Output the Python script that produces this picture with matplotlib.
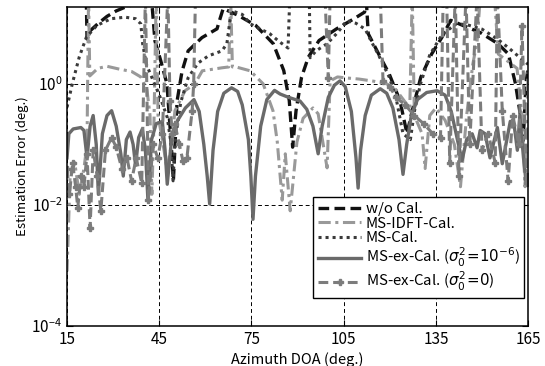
import numpy as np
import matplotlib
matplotlib.use("Agg")
import matplotlib.pyplot as plt
from matplotlib.ticker import NullLocator, FixedLocator

plt.rcParams['font.family'] = ['Noto Sans CJK JP', 'DejaVu Sans']
plt.rcParams['mathtext.fontset'] = 'dejavusans'

# w/o Cal.
wo_deg = [15, 21.2, 21.5, 22.5, 25, 28, 31, 34.5, 42.5, 43.6, 45.5, 47.5, 48.8, 49.6, 50.8,
          52.4, 54.4, 58.9, 63.8, 64.8, 65.8, 70.7, 76.4, 82.1, 85.5, 87.3, 88.4, 89.5, 91.3,
          93.5, 97, 102.7, 108.4, 111.8, 112.4, 113, 116.4, 119.8, 123.3, 125.6, 127.3, 130.1,
          133.6, 137, 139.8, 143.8, 149.5, 155.2, 158.6, 160.9, 162.6, 163.4, 164.3, 165]
wo_val = [40, 40, 5.5, 7.5, 9.8, 13, 16, 19, 25, 5.1, 2.4, 1.0, 0.12, 0.025, 0.52,
          1.6, 3.5, 5.8, 8.1, 12, 17.5, 13.5, 9.2, 4.6, 1.66, 0.53, 0.09, 0.36, 1.29,
          2.76, 5.2, 8.1, 11.9, 15.3, 22, 6.7, 3.1, 1.46, 0.53, 0.15, 0.36, 1.29,
          3.1, 5.9, 11.2, 9.2, 7.0, 4.6, 3.1, 1.0, 0.28, 0.115, 1.0, 1.9]

# MS-IDFT-Cal.
idft_deg = [15, 16, 17.5, 19, 20.5, 21.5, 22, 22.4, 25, 28, 32, 36, 39, 41, 42, 42.6, 43.3,
            44, 44.6, 46, 47.5, 49, 50.1, 53.4, 56.6, 59, 65.4, 67.6, 68.2, 68.8, 70, 74.6,
            78.8, 82, 83.4, 85, 86, 87.6, 89.8, 91.8, 95, 96.7, 99.6, 100.6, 103, 106, 110,
            115, 119, 122, 125, 126.5, 127.3, 128, 130.5, 131.5, 133, 135, 138, 141, 143,
            145, 147, 148.4, 149.5, 154, 155.3, 158.2, 161.4, 163, 164, 165]
idft_val = [0.0008, 0.03, 0.05, 0.015, 0.04, 0.1, 30, 1.35, 1.8, 1.95, 1.75, 1.6, 1.3, 0.8, 0.3,
            0.015, 0.25, 30, 0.3, 0.12, 0.04, 0.1, 0.36, 0.77, 1.0, 1.64, 1.84, 1.9, 30, 1.9,
            1.9, 1.64, 1.0, 0.36, 0.11, 0.012, 0.07, 0.008, 0.11, 0.27, 0.4, 0.32, 0.041, 1.12,
            1.3, 1.25, 1.2, 1.1, 1.0, 0.8, 0.5, 0.4, 30, 0.3, 0.15, 0.04, 0.3, 0.4, 0.25, 0.1,
            0.02, 0.3, 2.1, 5, 30, 30, 3.1, 2.4, 1.8, 0.3, 0.02, 1.6]

# MS-Cal.
ms_deg = [15, 16.7, 19, 21.3, 24.7, 29.3, 33.9, 37.3, 39, 39.6, 40.8, 43, 45.3, 47.6, 48.7,
          49.5, 50.1, 52, 54.4, 57.6, 61, 65.4, 67, 68, 68.7, 72, 74.6, 78, 81, 84, 86.9,
          87.5, 93.8, 94.1, 96, 99.6, 103, 106, 109, 112, 114, 116.2, 119.8, 122, 124.3,
          126.7, 128, 130, 133, 137, 141.6, 145, 150, 155, 159, 162, 165]
ms_val = [0.41, 1.0, 2.8, 5.9, 9.2, 11.9, 12.6, 11.9, 9.8, 4.6, 2.1, 1.14, 0.6, 0.28, 0.115,
          0.025, 0.11, 0.5, 1.26, 2.2, 2.9, 3.5, 4.6, 11, 16, 14, 9.8, 8, 6.7, 5, 3.9,
          30, 30, 2.7, 3.5, 4.6, 7, 11, 10, 8, 5, 3.1, 1.3, 0.6, 0.15,
          0.12, 0.35, 1.0, 3, 6.5, 9.8, 9.5, 8, 5.5, 3.8, 2.8, 2.1]

# MS-ex-Cal. (sigma0^2 = 1e-6)
ex6_deg = [15, 15.6, 17, 19.5, 20.5, 21.5, 22.5, 23.5, 24.5, 25.2, 26.5, 28, 29.5, 31, 32.5,
           33.3, 34.3, 35.5, 36.5, 37.3, 38.3, 39.5, 40.5, 41.3, 42.5, 44, 46, 46.9, 47.6,
           49, 51, 53.5, 56.3, 58, 59.5, 60.6, 61.4, 62.5, 64, 66, 68.5, 70.5, 72, 74, 74.8,
           75.5, 76.3, 78, 80, 82.5, 84.3, 87, 90.8, 93, 95, 96.7, 98, 100, 102, 103.8,
           105.5, 107.5, 109, 109.7, 110.5, 112, 114, 116.9, 119, 121, 123, 124.3, 125.5,
           127, 129, 132, 135.4, 138, 140, 142, 143.5, 145, 146.8, 148.4, 149.4, 151, 152.6,
           155, 156.6, 159.2, 160.5, 161.5, 162.3, 163.5, 164.3, 165]
ex6_val = [0.06, 0.15, 0.18, 0.19, 0.17, 0.06, 0.2, 0.30, 0.1, 0.015, 0.15, 0.3, 0.36, 0.2, 0.07,
           0.03, 0.12, 0.16, 0.1, 0.045, 0.13, 0.18, 0.08, 0.0125, 0.12, 0.22, 0.24, 0.08, 0.022,
           0.12, 0.25, 0.4, 0.55, 0.35, 0.1, 0.03, 0.0104, 0.08, 0.35, 0.7, 0.86, 0.75, 0.45, 0.12,
           0.03, 0.0058, 0.03, 0.2, 0.55, 0.78, 0.68, 0.6, 0.52, 0.38, 0.2, 0.07, 0.2, 0.6, 0.95,
           1.12, 0.9, 0.35, 0.06, 0.019, 0.08, 0.3, 0.65, 0.83, 0.7, 0.4, 0.12, 0.032, 0.1, 0.3,
           0.55, 0.72, 0.77, 0.65, 0.35, 0.12, 0.054, 0.12, 0.15, 0.088, 0.17, 0.15, 0.06, 0.19,
           0.048, 0.24, 0.2, 0.08, 0.3, 0.06, 0.025, 0.03]

# MS-ex-Cal. (sigma0^2 = 0)
ex0_deg = [15, 15.8, 16.8, 17.8, 18.5, 19.5, 20.5, 21.5, 22.5, 23.5, 24.8, 26, 27.5, 29.5, 31,
           32.8, 34.5, 36, 37.5, 39.3, 40.5, 41.5, 43, 44.5, 46, 47.8, 48.5, 49.2, 50.1, 51.5,
           52.7, 54, 55.7, 56.2, 56.8, 98.9, 100.0, 100.6, 116.9, 117.8, 120, 122, 125, 128,
           131, 134, 136.5, 137.4, 138.5, 139.5, 141.3, 142.5, 144.8, 146, 148.4, 150, 152,
           154.3, 155, 156.6, 158.5, 160, 162, 163, 164.5, 165]
ex0_val = [0.04, 0.015, 0.05, 0.02, 0.009, 0.03, 0.02, 0.07, 0.0042, 0.08, 0.03, 0.008, 0.08, 0.13,
           0.09, 0.04, 0.06, 0.025, 0.06, 0.023, 30, 0.012, 0.1, 0.06, 0.15, 30, 0.52, 0.15, 0.22,
           0.1, 0.054, 0.06, 0.36, 1.0, 30, 30, 1.25, 30, 30, 1.1, 0.9, 0.6, 0.45, 0.3, 0.22,
           0.15, 0.13, 30, 30, 0.05, 30, 0.03, 30, 0.1, 30, 0.08, 0.15, 0.05, 30, 0.36, 0.025,
           0.3, 0.1, 9, 0.023, 0.03]

fig = plt.figure(figsize=(5.45, 3.66), dpi=100)
ax = fig.add_axes([0.123, 0.109, 0.846, 0.872])

ax.plot(wo_deg, wo_val, color='#111111', ls=(0, (3.2, 1.6)), lw=2.4, label='w/o Cal.')
ax.plot(idft_deg, idft_val, color='#999999', ls=(0, (4, 1.5, 1, 1.5)), lw=2.2, label='MS-IDFT-Cal.')
ax.plot(ms_deg, ms_val, color='#3a3a3a', ls=(0, (1, 1.3)), lw=2.2, label='MS-Cal.')
ax.plot(ex6_deg, ex6_val, color='#6a6a6a', ls='-', lw=2.4,
        label=r'MS-ex-Cal. ($\sigma_0^2\!=\!10^{-6}$)')
ax.plot(ex0_deg, ex0_val, color='#7c7c7c', ls=(0, (3.2, 1.6)), lw=2.2, marker='P', ms=4.5,
        label=r'MS-ex-Cal. ($\sigma_0^2\!=\!0$)')

ax.set_yscale('log')
ax.set_xlim(15, 165)
ax.set_ylim(1e-4, 18.6)
ax.xaxis.set_major_locator(FixedLocator([15, 45, 75, 105, 135, 165]))
ax.yaxis.set_major_locator(FixedLocator([1e-4, 1e-2, 1e0]))
ax.yaxis.set_minor_locator(NullLocator())
ax.tick_params(direction='in', top=True, right=True, labelsize=11, length=4)
ax.grid(True, which='major', color='black', ls=(0, (4, 3)), lw=0.7)
for s in ax.spines.values():
    s.set_linewidth(1.1)

ax.set_xlabel('Azimuth DOA (deg.)', fontsize=10.5, labelpad=3)
ax.set_ylabel('Estimation Error (deg.)', fontsize=9.5, labelpad=2)

leg = ax.legend(loc='lower right', bbox_to_anchor=(1.008, 0.065), fontsize=10.8,
                handlelength=2.9, handletextpad=0.3, labelspacing=0.05,
                borderpad=0.3, fancybox=False, framealpha=1, edgecolor='black')
leg.get_frame().set_linewidth(1.0)

fig.savefig('out.png', dpi=100)
